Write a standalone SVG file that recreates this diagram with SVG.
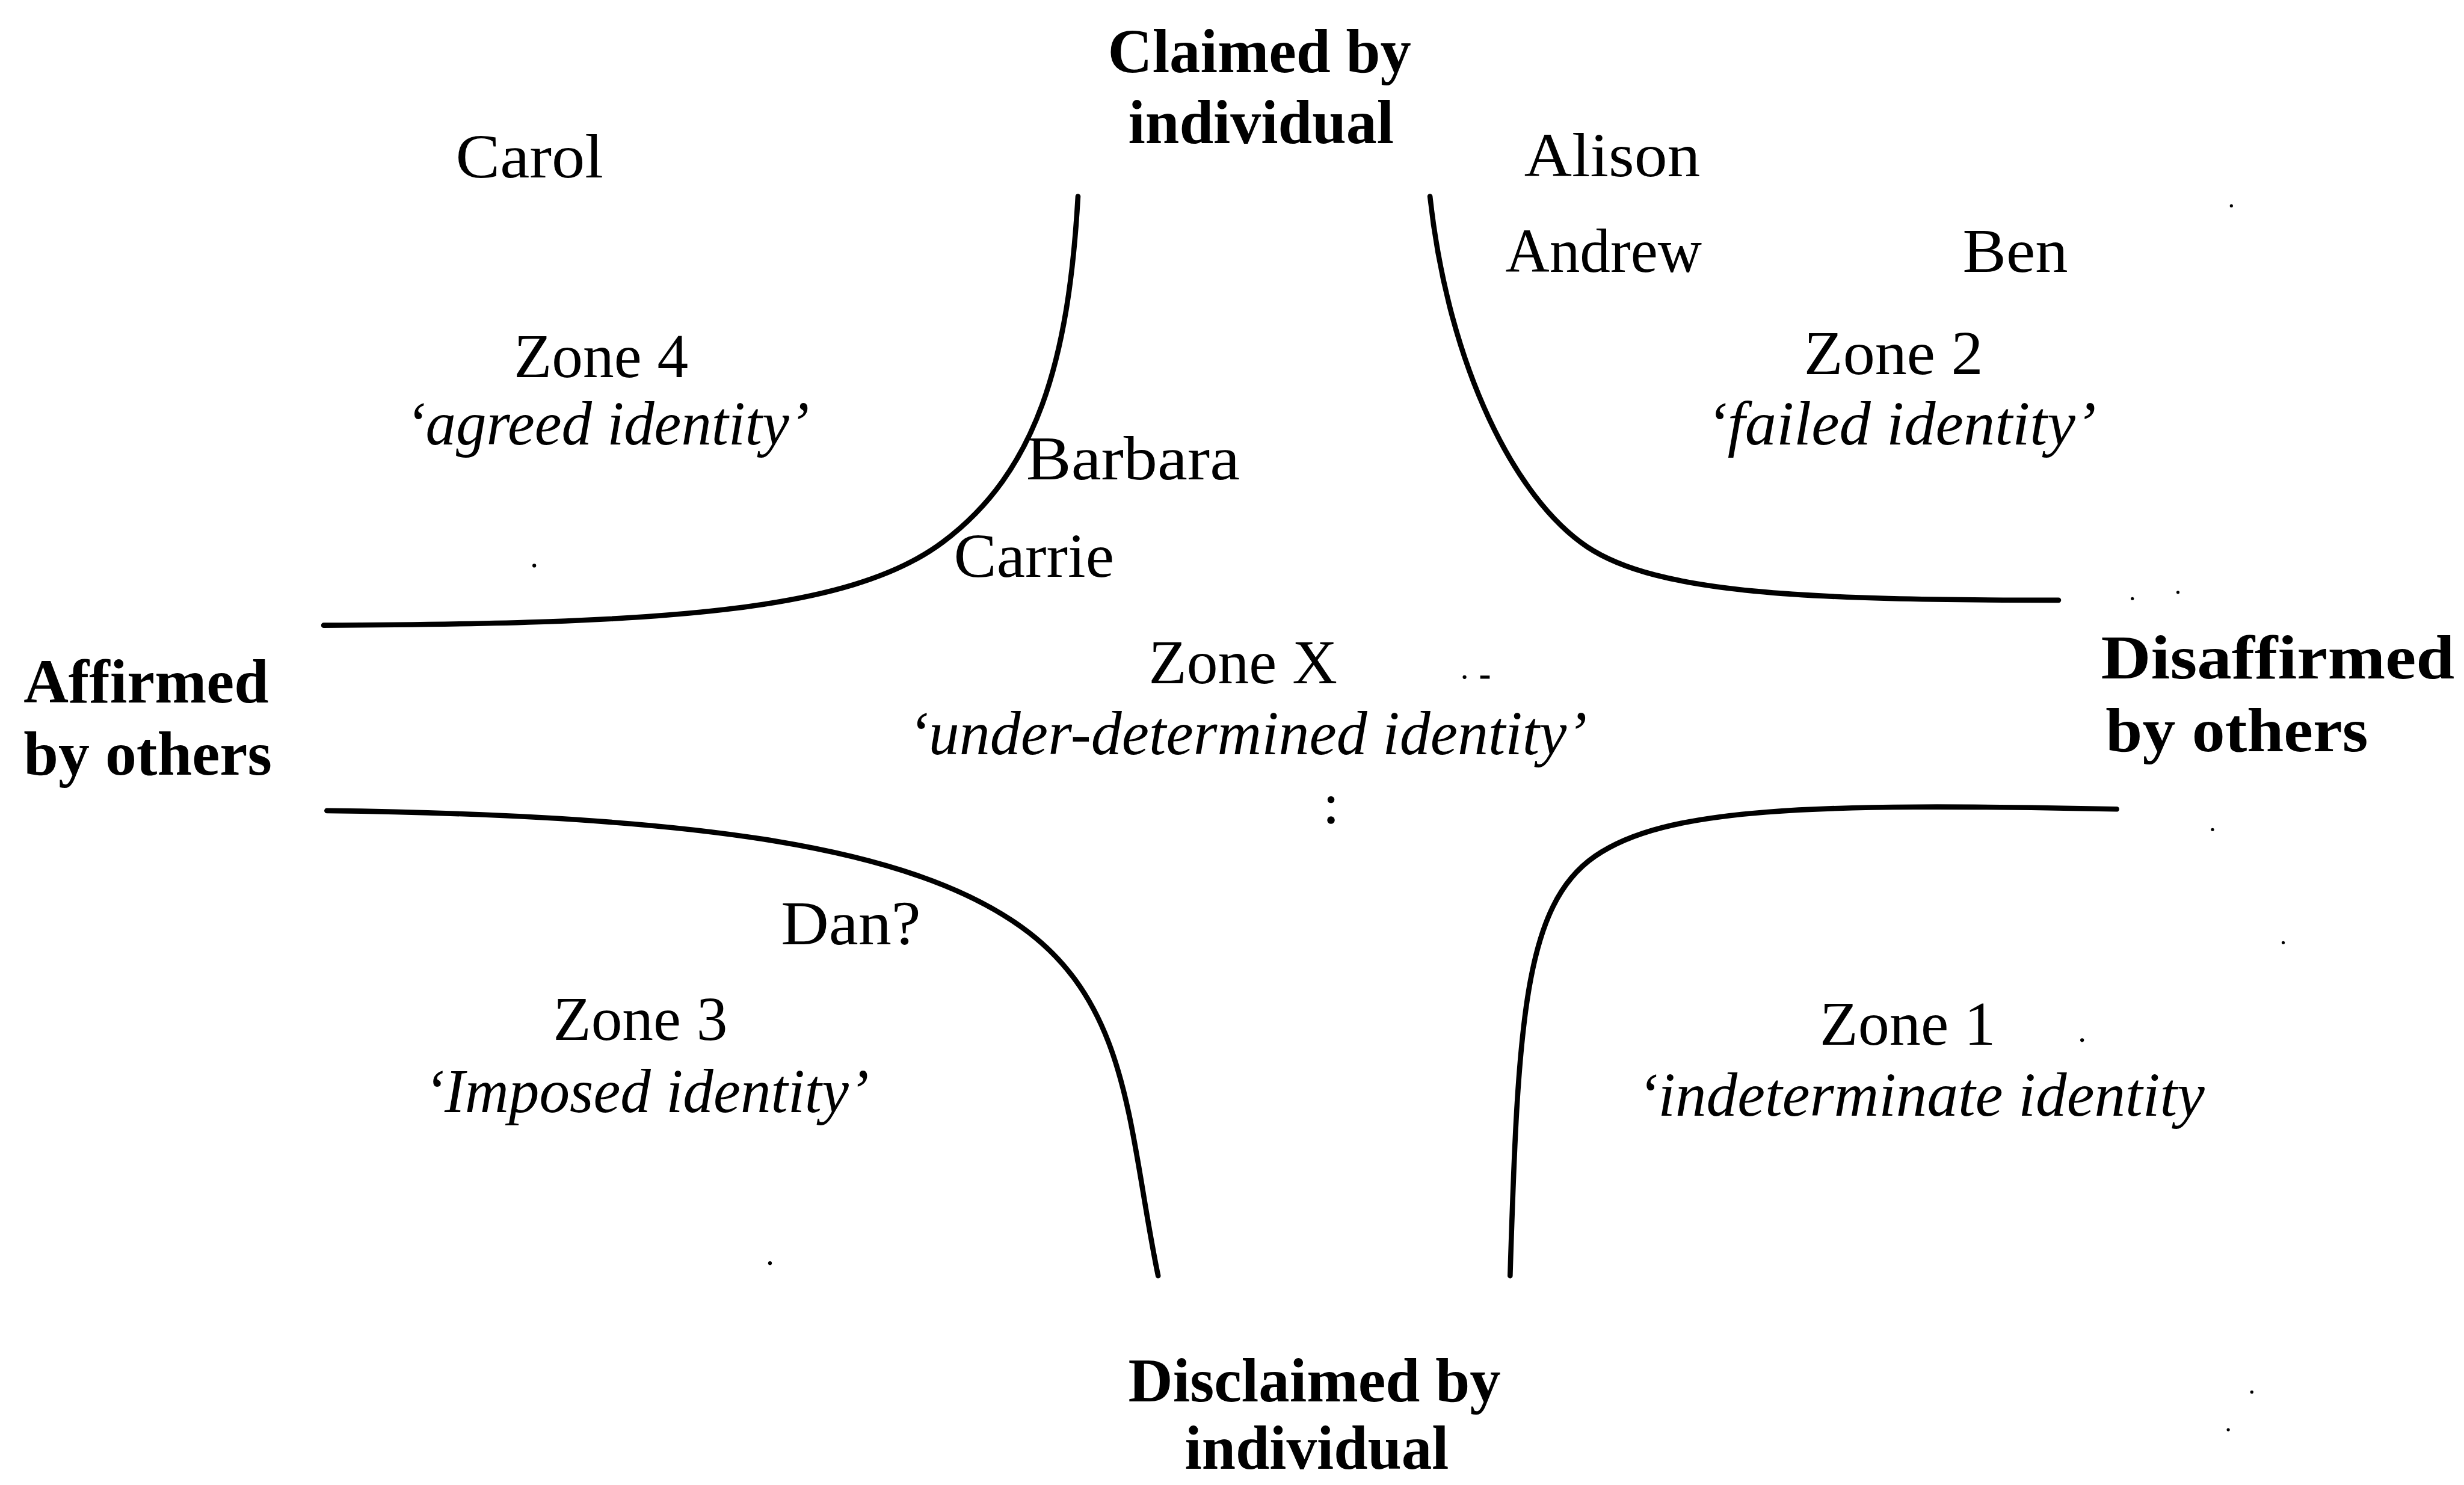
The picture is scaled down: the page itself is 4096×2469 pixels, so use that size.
<svg xmlns="http://www.w3.org/2000/svg" width="4096" height="2469" viewBox="0 0 4096 2469">
  <style>
    .lbl { font-family: "Liberation Serif", "Times New Roman", serif; font-size: 40px; fill: #000; }
    .axis { font-weight: bold; }
    .it { font-style: italic; }
    .curve { fill: none; stroke: #000; stroke-width: 3.3; stroke-linecap: round; }
    .speck { fill: #000; }
  </style>
  <rect width="4096" height="2469" fill="#fff"/>
  <g transform="scale(2.6122)">
    <!-- boundary curves between the zones -->
    <g id="connectors">
      <path id="curve-top-left" class="curve" d="M686,125 C680,230 660,300 600,345 S420,397 206,398"/>
      <path id="curve-top-right" class="curve" d="M910,125 C922,235 965,318 1010,348 S1150,382 1310,382"/>
      <path id="curve-bottom-left" class="curve" d="M208,516 C450,519 580,540 650,590 S718,720 737,812"/>
      <path id="curve-bottom-right" class="curve" d="M1347,515 C1150,511 1060,514 1015,545 S966,650 961,812"/>
    </g>

    <!-- axis labels -->
    <g id="axis-claimed">
      <text class="lbl axis" x="705" y="46" textLength="193" lengthAdjust="spacingAndGlyphs">Claimed by</text>
      <text class="lbl axis" x="718" y="91" textLength="169" lengthAdjust="spacingAndGlyphs">individual</text>
    </g>
    <g id="axis-affirmed">
      <text class="lbl axis" x="15" y="447" textLength="156" lengthAdjust="spacingAndGlyphs">Affirmed</text>
      <text class="lbl axis" x="15" y="493" textLength="158" lengthAdjust="spacingAndGlyphs">by others</text>
    </g>
    <g id="axis-disaffirmed">
      <text class="lbl axis" x="1337" y="432" textLength="225" lengthAdjust="spacingAndGlyphs">Disaffirmed</text>
      <text class="lbl axis" x="1340" y="478" textLength="167" lengthAdjust="spacingAndGlyphs">by others</text>
    </g>
    <g id="axis-disclaimed">
      <text class="lbl axis" x="718" y="892" textLength="237" lengthAdjust="spacingAndGlyphs">Disclaimed by</text>
      <text class="lbl axis" x="754" y="935" textLength="168" lengthAdjust="spacingAndGlyphs">individual</text>
    </g>

    <!-- zones -->
    <g id="zone-4">
      <text class="lbl" x="327" y="240" textLength="111" lengthAdjust="spacingAndGlyphs">Zone 4</text>
      <text class="lbl it" x="258" y="283" textLength="257" lengthAdjust="spacingAndGlyphs">‘agreed identity’</text>
    </g>
    <g id="zone-2">
      <text class="lbl" x="1148" y="238" textLength="114" lengthAdjust="spacingAndGlyphs">Zone 2</text>
      <text class="lbl it" x="1086" y="283" textLength="248" lengthAdjust="spacingAndGlyphs">‘failed identity’</text>
    </g>
    <g id="zone-x">
      <text class="lbl" x="731" y="435" textLength="120" lengthAdjust="spacingAndGlyphs">Zone X</text>
      <text class="lbl it" x="578" y="480" textLength="432" lengthAdjust="spacingAndGlyphs">‘under-determined identity’</text>
    </g>
    <g id="zone-3">
      <text class="lbl" x="352" y="662" textLength="111" lengthAdjust="spacingAndGlyphs">Zone 3</text>
      <text class="lbl it" x="270" y="708" textLength="283" lengthAdjust="spacingAndGlyphs">‘Imposed identity’</text>
    </g>
    <g id="zone-1">
      <text class="lbl" x="1158" y="665" textLength="112" lengthAdjust="spacingAndGlyphs">Zone 1</text>
      <text class="lbl it" x="1042" y="710" textLength="361" lengthAdjust="spacingAndGlyphs">‘indeterminate identity</text>
    </g>

    <!-- people placed on the map -->
    <g id="person-carol"><text class="lbl" x="290" y="113" textLength="94" lengthAdjust="spacingAndGlyphs">Carol</text></g>
    <g id="person-alison"><text class="lbl" x="970" y="112" textLength="112" lengthAdjust="spacingAndGlyphs">Alison</text></g>
    <g id="person-andrew"><text class="lbl" x="958" y="173" textLength="125" lengthAdjust="spacingAndGlyphs">Andrew</text></g>
    <g id="person-ben"><text class="lbl" x="1249" y="173" textLength="67" lengthAdjust="spacingAndGlyphs">Ben</text></g>
    <g id="person-barbara"><text class="lbl" x="653" y="305" textLength="136" lengthAdjust="spacingAndGlyphs">Barbara</text></g>
    <g id="person-carrie"><text class="lbl" x="607" y="367" textLength="102" lengthAdjust="spacingAndGlyphs">Carrie</text></g>
    <g id="person-dan"><text class="lbl" x="497" y="601" textLength="89" lengthAdjust="spacingAndGlyphs">Dan?</text></g>

    <!-- stray print marks -->
    <g id="specks">
      <circle class="speck" cx="847" cy="509" r="2.2"/>
      <circle class="speck" cx="847" cy="522" r="2.4"/>
      <circle class="speck" cx="932" cy="431" r="1.2"/>
      <rect class="speck" x="942" y="430" width="6" height="2"/>
      <circle class="speck" cx="1420" cy="131" r="1"/>
      <circle class="speck" cx="1357" cy="381" r="1"/>
      <circle class="speck" cx="1386" cy="377" r="1"/>
      <circle class="speck" cx="1408" cy="528" r="1"/>
      <circle class="speck" cx="1453" cy="600" r="1"/>
      <circle class="speck" cx="1325" cy="662" r="1.2"/>
      <circle class="speck" cx="1433" cy="886" r="1"/>
      <circle class="speck" cx="1418" cy="910" r="1"/>
      <circle class="speck" cx="490" cy="804" r="1.2"/>
      <circle class="speck" cx="340" cy="360" r="1.2"/>
    </g>
  </g>
</svg>
